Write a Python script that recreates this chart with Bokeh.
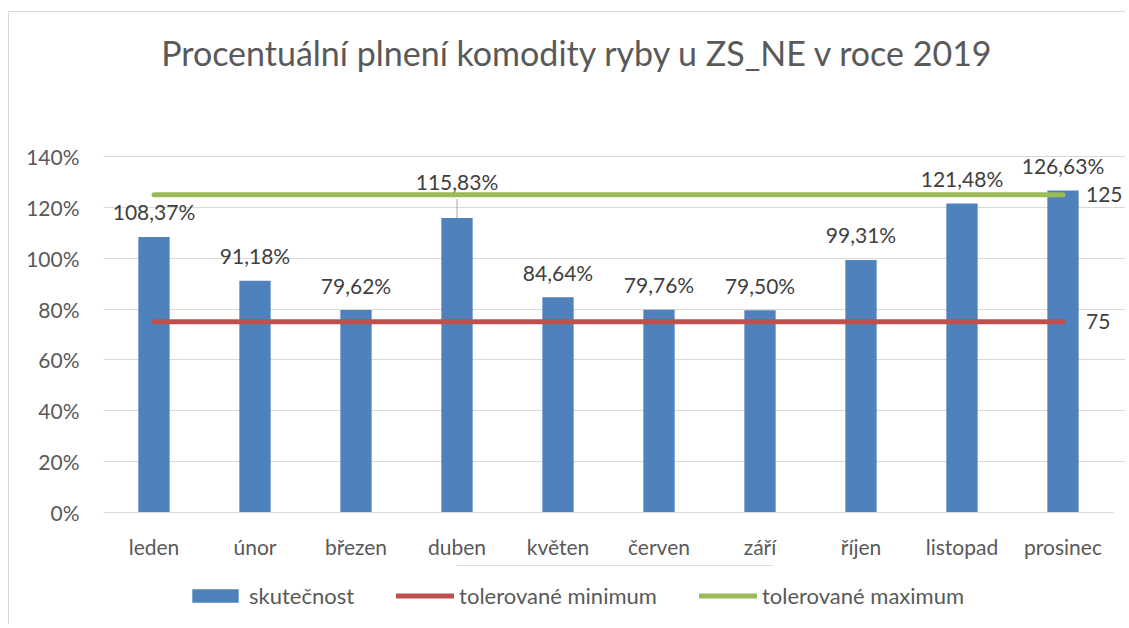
from bokeh.plotting import figure
from bokeh.layouts import column
from bokeh.models import (ColumnDataSource, Range1d, FixedTicker, PrintfTickFormatter,
                          CustomJSTickFormatter, Label, Legend, LegendItem)
from bokeh.core.properties import value
from bokeh.embed import file_html
from bokeh.resources import INLINE

# ---- data ----
months = ["leden", "únor", "březen", "duben", "květen", "červen", "září", "říjen", "listopad", "prosinec"]
actual = [108.37, 91.18, 79.62, 115.83, 84.64, 79.76, 79.50, 99.31, 121.48, 126.63]
tol_min = [75] * 10
tol_max = [125] * 10
y_ticks = [0, 20, 40, 60, 80, 100, 120, 140]
title_text = "Procentuální plnení komodity ryby u ZS_NE v roce 2019"
series_names = ["skutečnost", "tolerované minimum", "tolerované maximum"]

FONT = "Lato"
TXT = "#595959"
LBL = "#404040"
FS = "21px"
BLUE, RED, GREEN = "#4F81BD", "#C0504D", "#9BBB59"
BORDER = "#d9d9d9"

n = len(months)
xpos = [i + 0.5 for i in range(n)]
labels = [f"{v:.2f}".replace(".", ",") + "%" for v in actual]
# label offsets (style): duben label is lifted with a leader line
offsets = [-25, -25, -25, -36, -25, -25, -25, -25, -25, -25]

src = ColumnDataSource(dict(x=xpos, m=months, v=actual, lab=labels, off=offsets,
                            lo=tol_min, hi=tol_max))

# ---- layout geometry (page pixels) ----
OX, OY = 9, 12            # content origin (inside the outer chart border)
PAGE_R = 1125
LEFT = 103                # frame left
ZERO_Y = 512              # pixel row of 0 %
TOP_Y = 156               # pixel row of 140 %
FRAME_R = 1113            # right end of grid lines
P_BOTTOM = 565
Q_BOTTOM = 624

W = PAGE_R - OX
H1 = P_BOTTOM - OY
H2 = Q_BOTTOM - P_BOTTOM
px_per_cat = (FRAME_R - LEFT) / n
px_per_unit = (ZERO_Y - TOP_Y) / 140.0
x_end = (PAGE_R - LEFT) / px_per_cat
y_end = (ZERO_Y - OY) / px_per_unit

p = figure(x_range=Range1d(0, x_end), y_range=Range1d(0, y_end), title=None,
           width=W, height=H1, output_backend="svg", toolbar_location=None,
           min_border_left=LEFT - OX, min_border_right=0, min_border_top=0,
           min_border_bottom=P_BOTTOM - ZERO_Y)
p.outline_line_color = None
p.background_fill_color = "white"
p.border_fill_color = "white"

bars = p.vbar(x="x", top="v", width=0.31, source=src, fill_color=BLUE, line_color=None)
p.line(x="x", y="lo", source=src, line_color=RED, line_width=5, line_cap="round")
p.line(x="x", y="hi", source=src, line_color=GREEN, line_width=5, line_cap="round")

# leader line for duben label
i = months.index("duben")
p.segment(x0=[xpos[i]], y0=[actual[i]], x1=[xpos[i]], y1=[actual[i] + 19 / px_per_unit],
          line_color="#a6a6a6", line_width=1)

p.text(x="x", y="v", text="lab", source=src, text_align="center", text_baseline="alphabetic",
       y_offset="off", text_font=value(FONT), text_font_size=FS, text_color=LBL)

# end labels for tolerance lines
for val in (tol_max[-1], tol_min[-1]):
    p.add_layout(Label(x=xpos[-1], y=val, text=str(val), x_offset=23,
                       text_baseline="middle", text_font=FONT, text_font_size=FS,
                       text_color=LBL))

# title (inside the frame, above the 140 % line)
p.add_layout(Label(x=(577.5 - LEFT) / px_per_cat, y=(ZERO_Y - 52) / px_per_unit,
                   text=title_text, text_align="center", text_baseline="middle",
                   text_font=FONT, text_font_size="34px", text_color=TXT))

# axes
p.yaxis.ticker = FixedTicker(ticks=y_ticks)
p.yaxis.formatter = PrintfTickFormatter(format="%d%%")
p.yaxis.axis_line_color = None
p.yaxis.major_tick_line_color = None
p.yaxis.minor_tick_line_color = None
p.yaxis.major_tick_out = 0
p.yaxis.minor_tick_out = 0
p.yaxis.major_label_standoff = 24
p.xaxis.ticker = FixedTicker(ticks=xpos)
p.xaxis.formatter = CustomJSTickFormatter(args=dict(months=months),
                                          code="return months[Math.floor(tick)];")
p.xaxis.bounds = (0, n)
p.xaxis.axis_line_color = BORDER
p.xaxis.major_tick_line_color = None
p.xaxis.minor_tick_line_color = None
p.xaxis.major_tick_out = 0
p.xaxis.minor_tick_out = 0
p.xaxis.major_label_standoff = 21
for ax in (p.xaxis, p.yaxis):
    ax.major_label_text_font = FONT
    ax.major_label_text_font_size = FS
    ax.major_label_text_color = TXT
p.xgrid.grid_line_color = None
p.ygrid.grid_line_color = BORDER
p.ygrid.grid_line_width = 1
p.ygrid.bounds = (0, n)
p.ygrid.ticker = FixedTicker(ticks=y_ticks)

# ---- legend strip (same series, drawn out of view; only the legend shows) ----
q = figure(x_range=Range1d(0, 1), y_range=Range1d(-2, -1), title=None,
           width=W, height=H2, output_backend="svg", toolbar_location=None,
           x_axis_type=None, y_axis_type=None,
           min_border_left=LEFT - OX, min_border_right=0, min_border_top=0, min_border_bottom=0)
q.outline_line_color = None
q.background_fill_color = "white"
q.border_fill_color = "white"
lg_bar = q.vbar(x="x", top="v", width=0.31, source=src, fill_color=BLUE, line_color=None)
lg_min = q.line(x="x", y="lo", source=src, line_color=RED, line_width=5, line_cap="round")
lg_max = q.line(x="x", y="hi", source=src, line_color=GREEN, line_width=5, line_cap="round")
legend = Legend(items=[LegendItem(label=series_names[0], renderers=[lg_bar]),
                       LegendItem(label=series_names[1], renderers=[lg_min]),
                       LegendItem(label=series_names[2], renderers=[lg_max])],
                orientation="horizontal", location=(186 - LEFT, 15), padding=0, margin=0,
                spacing=42, label_standoff=5, glyph_width=58, glyph_height=17,
                label_height=17, border_line_color=None, background_fill_alpha=0,
                label_text_font=FONT, label_text_font_size="22px", label_text_color=TXT)
q.add_layout(legend)

layout = column(p, q, spacing=0, margin=(OY - 1, 0, 0, OX - 1),
                styles={"border-left": f"1px solid {BORDER}", "border-top": f"1px solid {BORDER}"})
open("out.html", "w").write(file_html(layout, INLINE))
